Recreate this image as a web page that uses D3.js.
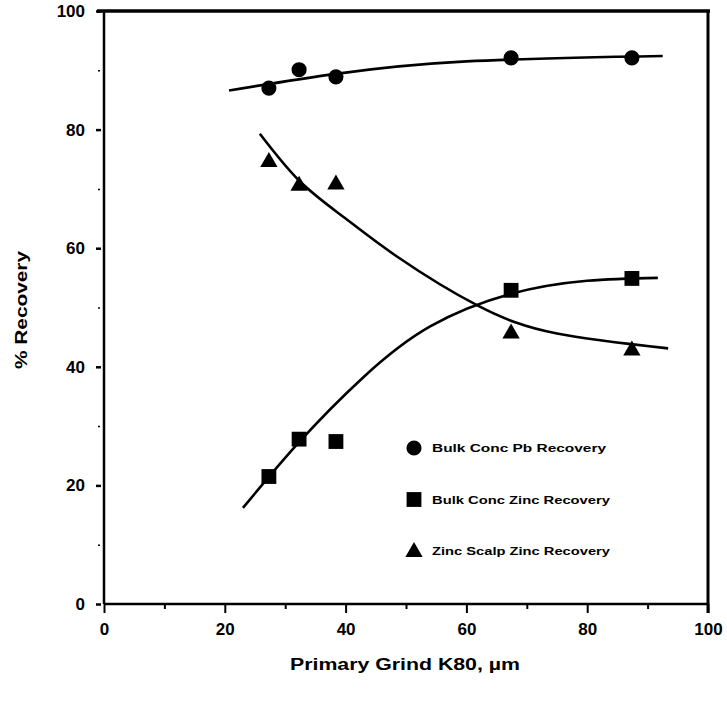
<!DOCTYPE html>
<html>
<head>
<meta charset="utf-8">
<script src="https://cdn.jsdelivr.net/npm/d3@7"></script>
<style>
  html, body { margin: 0; padding: 0; background: #fff; }
  svg { display: block; }
  text { font-family: "Liberation Sans", Arial, sans-serif; font-weight: bold; fill: #000; }
</style>
</head>
<body>
<svg id="chart" width="727" height="706"></svg>
<script>
// Grind size (K80, µm) of each test
const grindK80 = [27.3, 32.3, 38.4, 67.4, 87.4];
// Measured recoveries (%)
const pbBulkRecovery = [87.0, 90.1, 88.9, 92.1, 92.1];
const znBulkRecovery = [21.5, 27.8, 27.4, 52.9, 54.9];
const znScalpRecovery = [74.7, 70.7, 70.9, 45.8, 42.9];

// Hand-fitted trend curves
const pbTrendX = [20.7, 38.4, 60, 92.5];
const pbTrendY = [86.6, 89.4, 91.5, 92.4];
const znBulkTrendX = [23.0, 32.3, 42.9, 54, 67.4, 80, 91.7];
const znBulkTrendY = [16.2, 27.3, 38.2, 46.8, 52.3, 54.5, 55.0];
const znScalpTrendX = [25.8, 32.5, 40, 48.5, 61.9, 75, 93.4];
const znScalpTrendY = [79.3, 71.2, 65.0, 58.6, 50.3, 45.6, 43.1];

const xTicks = [0, 20, 40, 60, 80, 100];
const yTicks = [0, 20, 40, 60, 80, 100];
const legendLabels = ["Bulk Conc Pb Recovery", "Bulk Conc Zinc Recovery", "Zinc Scalp Zinc Recovery"];

const svg = d3.select("#chart");
const x = d3.scaleLinear().domain([0, 100]).range([104, 708]);
const y = d3.scaleLinear().domain([0, 100]).range([604, 11]);

// Frame
svg.append("line").attr("x1", 97).attr("x2", 710).attr("y1", y(100)).attr("y2", y(100))
  .attr("stroke", "#000").attr("stroke-width", 3.5);
svg.append("line").attr("x1", x(100)).attr("x2", x(100)).attr("y1", y(100)).attr("y2", y(0) + 9)
  .attr("stroke", "#000").attr("stroke-width", 3);

// X axis
const xAxis = svg.append("g").attr("transform", `translate(0,${y(0)})`)
  .call(d3.axisBottom(x).tickValues(xTicks).tickSize(9).tickPadding(10).tickFormat(d3.format("d")));
xAxis.select(".domain").attr("stroke-width", 2.5).attr("d", `M${x(0)},0H${x(100)}`);
xAxis.selectAll(".tick line").attr("stroke-width", 2);
xAxis.selectAll(".tick text").attr("font-size", 17).attr("font-family", "Liberation Sans, Arial").attr("font-weight", "bold");
svg.append("g").attr("transform", `translate(0,${y(0)})`)
  .call(d3.axisBottom(x).tickValues([10, 30, 50, 70, 90]).tickSize(5).tickFormat(""))
  .call(g => g.select(".domain").remove())
  .selectAll(".tick line").attr("stroke-width", 2);

// Y axis: short dashes set slightly off the axis line
const yAxis = svg.append("g").attr("transform", `translate(${x(0)},0)`)
  .call(d3.axisLeft(y).tickValues(yTicks).tickSize(8).tickPadding(11).tickFormat(d3.format("d")));
yAxis.select(".domain").attr("stroke-width", 2.5).attr("d", `M0,${y(0)}V${y(100)}`);
yAxis.selectAll(".tick line").attr("stroke-width", 2.5).attr("x1", -3);
yAxis.selectAll(".tick text").attr("font-size", 17).attr("font-family", "Liberation Sans, Arial").attr("font-weight", "bold");
svg.append("g").attr("transform", `translate(${x(0)},0)`)
  .call(d3.axisLeft(y).tickValues([10, 30, 50, 70, 90]).tickSize(4).tickFormat(""))
  .call(g => g.select(".domain").remove())
  .selectAll(".tick line").attr("stroke-width", 1.5).attr("x2", -4).attr("x1", -6);

// Axis titles
svg.append("text").attr("x", 405).attr("y", 670).attr("text-anchor", "middle")
  .attr("font-size", 16).attr("textLength", 230).attr("lengthAdjust", "spacingAndGlyphs")
  .text("Primary Grind K80, µm");
svg.append("text").attr("transform", "translate(27,310) rotate(-90)").attr("text-anchor", "middle")
  .attr("font-size", 16).attr("textLength", 118).attr("lengthAdjust", "spacingAndGlyphs")
  .text("% Recovery");

// Trend curves
const line = d3.line().x(d => x(d[0])).y(d => y(d[1])).curve(d3.curveNatural);
[[pbTrendX, pbTrendY], [znBulkTrendX, znBulkTrendY], [znScalpTrendX, znScalpTrendY]].forEach(([xs, ys]) => {
  svg.append("path").datum(d3.zip(xs, ys)).attr("d", line)
    .attr("fill", "none").attr("stroke", "#000").attr("stroke-width", 2.6);
});

// Markers
const symCircle = d3.symbol().type(d3.symbolCircle).size(180);
const symSquare = d3.symbol().type(d3.symbolSquare).size(220);
const symTriangle = d3.symbol().type(d3.symbolTriangle).size(130);

function drawSeries(values, sym, dy) {
  svg.append("g").selectAll("path").data(d3.zip(grindK80, values)).join("path")
    .attr("transform", d => `translate(${x(d[0])},${y(d[1]) + dy})`)
    .attr("d", sym).attr("fill", "#000");
}
drawSeries(pbBulkRecovery, symCircle, 0);
drawSeries(znBulkRecovery, symSquare, 0);
drawSeries(znScalpRecovery, symTriangle, 1);

// Legend
const legendSyms = [symCircle, symSquare, symTriangle];
const legend = svg.append("g");
legendLabels.forEach((label, i) => {
  const cy = 448 + i * 51.5;
  legend.append("path").attr("transform", `translate(414,${cy + (i === 2 ? 1 : 0)})`).attr("d", legendSyms[i]).attr("fill", "#000");
  legend.append("text").attr("x", 432).attr("y", cy + 4).attr("font-size", 11.5)
    .attr("textLength", i === 2 ? 178 : (i === 1 ? 178 : 174)).attr("lengthAdjust", "spacingAndGlyphs")
    .text(label);
});
</script>
</body>
</html>
